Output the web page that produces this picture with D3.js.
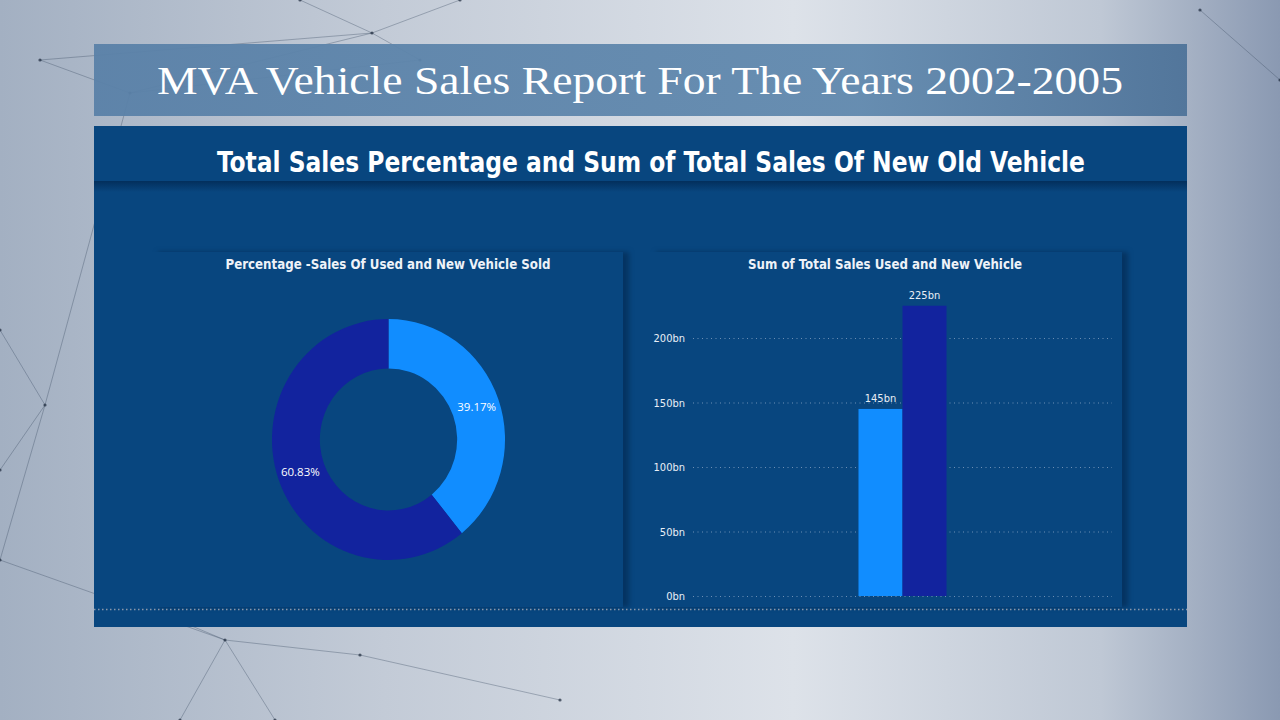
<!DOCTYPE html>
<html>
<head>
<meta charset="utf-8">
<script src="https://cdn.jsdelivr.net/npm/d3@7"></script>
<style>
  html, body { margin: 0; padding: 0; width: 1280px; height: 720px; overflow: hidden; }
  svg { display: block; }
</style>
</head>
<body>
<svg id="chart" width="1280" height="720"></svg>
<script>
// ---- Data ----
const reportTitle = "MVA Vehicle Sales Report For The Years 2002-2005";
const dashboardTitle = "Total Sales Percentage and Sum of Total Sales Of New Old Vehicle";
const donutTitle = "Percentage -Sales Of Used and New Vehicle Sold";
const barTitle = "Sum of Total Sales Used and New Vehicle";
const categories = ["Used Vehicle", "New Vehicle"];
const salesPercent = [39.17, 60.83];
const salesTotalBn = [145, 225];
const yTicks = [0, 50, 100, 150, 200];
const seriesColors = ["#118DFF", "#12239E"];

// decorative background network (not data)
const decoNodes = [[40, 60], [130, 93], [372, 33], [300, 0], [460, 0], [420, 60], [45, 405], [0, 330], [0, 470],
  [225, 640], [180, 720], [275, 720], [360, 655], [0, 560], [130, 600], [560, 700], [1200, 10], [1280, 80]];
const decoLinks = [[0, 1], [1, 2], [2, 3], [2, 4], [2, 5], [0, 2], [6, 7], [6, 8], [6, 1], [9, 10], [9, 11], [9, 12],
  [9, 13], [9, 14], [12, 15], [13, 6], [16, 17], [1, 5]];

const svg = d3.select("#chart");
const defs = svg.append("defs");

// background gradient
const bg = defs.append("linearGradient").attr("id", "bg").attr("x1", 0).attr("y1", 0).attr("x2", 1).attr("y2", 0);
bg.append("stop").attr("offset", "0%").attr("stop-color", "#a3b0c2");
bg.append("stop").attr("offset", "30%").attr("stop-color", "#c3cbd7");
bg.append("stop").attr("offset", "62%").attr("stop-color", "#dde2e9");
bg.append("stop").attr("offset", "86%").attr("stop-color", "#bfc8d5");
bg.append("stop").attr("offset", "100%").attr("stop-color", "#8a99b2");
svg.append("rect").attr("width", 1280).attr("height", 720).attr("fill", "url(#bg)");

const deco = svg.append("g").attr("stroke", "#3a4b63").attr("stroke-opacity", 0.45).attr("stroke-width", 0.8);
deco.selectAll("line").data(decoLinks).join("line")
  .attr("x1", d => decoNodes[d[0]][0]).attr("y1", d => decoNodes[d[0]][1])
  .attr("x2", d => decoNodes[d[1]][0]).attr("y2", d => decoNodes[d[1]][1]);
deco.selectAll("circle").data(decoNodes).join("circle")
  .attr("cx", d => d[0]).attr("cy", d => d[1]).attr("r", 1.6)
  .attr("fill", "#1d2a3c").attr("fill-opacity", 0.7).attr("stroke", "none");

// shadow filter
const f = defs.append("filter").attr("id", "cardShadow").attr("x", "-5%").attr("y", "-5%")
  .attr("width", "115%").attr("height", "115%").attr("color-interpolation-filters", "sRGB");
f.append("feDropShadow").attr("dx", 6).attr("dy", 0).attr("stdDeviation", 2.5)
  .attr("flood-color", "#022548").attr("flood-opacity", 0.55);

// title band
const tb = defs.append("linearGradient").attr("id", "tb").attr("x1", 0).attr("y1", 0).attr("x2", 1).attr("y2", 0);
tb.append("stop").attr("offset", "0%").attr("stop-color", "#5a81a8");
tb.append("stop").attr("offset", "70%").attr("stop-color", "#6189ae");
tb.append("stop").attr("offset", "100%").attr("stop-color", "#4e7399");
svg.append("rect").attr("x", 94).attr("y", 44).attr("width", 1093).attr("height", 72)
  .attr("fill", "url(#tb)").attr("opacity", 0.95);
svg.append("text").attr("x", 640).attr("y", 94).attr("text-anchor", "middle")
  .attr("font-family", "'Liberation Serif', 'DejaVu Serif', serif").attr("font-size", 41)
  .attr("fill", "#ffffff").attr("textLength", 966).attr("lengthAdjust", "spacingAndGlyphs")
  .text(reportTitle);

// dashboard panel
svg.append("rect").attr("x", 94).attr("y", 126).attr("width", 1093).attr("height", 501).attr("fill", "#08467f");
const hs = defs.append("linearGradient").attr("id", "hs").attr("x1", 0).attr("y1", 0).attr("x2", 0).attr("y2", 1);
hs.append("stop").attr("offset", "0%").attr("stop-color", "#032f5c");
hs.append("stop").attr("offset", "100%").attr("stop-color", "#08467f");
svg.append("rect").attr("x", 94).attr("y", 181).attr("width", 1093).attr("height", 11).attr("fill", "url(#hs)");
svg.append("text").attr("x", 651).attr("y", 172).attr("text-anchor", "middle")
  .attr("font-family", "'DejaVu Sans Condensed', 'DejaVu Sans', sans-serif").attr("font-weight", "bold")
  .attr("font-size", 29).attr("fill", "#ffffff")
  .attr("textLength", 868).attr("lengthAdjust", "spacingAndGlyphs")
  .text(dashboardTitle);

// cards
const cardFont = "'DejaVu Sans Condensed', 'DejaVu Sans', sans-serif";
function card(x, w, title, titleLen, cx) {
  svg.append("rect").attr("x", x).attr("y", 252).attr("width", w).attr("height", 355)
    .attr("fill", "#08467f").attr("filter", "url(#cardShadow)");
  svg.append("text").attr("x", cx).attr("y", 269).attr("text-anchor", "middle")
    .attr("font-family", cardFont).attr("font-weight", "bold").attr("font-size", 14)
    .attr("fill", "#eef2f8").attr("textLength", titleLen).attr("lengthAdjust", "spacingAndGlyphs")
    .text(title);
}
card(152, 471, donutTitle, 325, 388);
card(650, 472, barTitle, 274, 885);

// bottom dotted line
svg.append("line").attr("x1", 94).attr("x2", 1187).attr("y1", 609.5).attr("y2", 609.5)
  .attr("stroke", "#8a97aa").attr("stroke-width", 1.5).attr("stroke-dasharray", "1.5,2.5");

// ---- Donut ----
const dcx = 388.5, dcy = 439.5, rOuter = 120.5, rInner = 71, sx = 0.967;
const pie = d3.pie().sort(null).value(d => d)(salesPercent);
const arc = d3.arc().innerRadius(rInner).outerRadius(rOuter);
const rl = (rInner + rOuter) / 2 + 1;
const labelArc = d3.arc().innerRadius(rl).outerRadius(rl);
const dg = svg.append("g").attr("transform", `translate(${dcx},${dcy})`);
dg.append("g").attr("transform", `scale(${sx},1)`)
  .selectAll("path").data(pie).join("path")
  .attr("d", arc).attr("fill", (d, i) => seriesColors[i]);
dg.selectAll("text").data(pie).join("text")
  .attr("transform", d => { const c = labelArc.centroid(d); return `translate(${c[0] * sx},${c[1]})`; })
  .attr("text-anchor", "middle").attr("dy", "0.35em")
  .attr("font-family", "'Open Sans', 'DejaVu Sans', sans-serif").attr("font-size", 11.5)
  .attr("fill", "#ffffff")
  .text(d => d.data.toFixed(2) + "%");

// ---- Bar chart ----
const y = d3.scaleLinear().domain([0, 200]).range([596, 338]);
const gridX0 = 693, gridX1 = 1112;
const xOuter = d3.scaleBand().domain(["Total"]).range([gridX0, gridX1]).paddingOuter(1.88).paddingInner(0);
const xInner = d3.scaleBand().domain(categories).range([0, xOuter.bandwidth()]).padding(0);

const bg2 = svg.append("g");
const yAxis = d3.axisLeft(y).tickValues(yTicks).tickSize(0).tickPadding(0).tickFormat(d => d + "bn");
const ya = bg2.append("g").attr("transform", "translate(685,0)").call(yAxis);
ya.select(".domain").remove();
ya.selectAll("text").attr("font-family", cardFont).attr("font-size", 11).attr("fill", "#e8eef6");
bg2.append("g").selectAll("line").data(yTicks).join("line")
  .attr("x1", gridX0).attr("x2", gridX1)
  .attr("y1", d => y(d) + 0.5).attr("y2", d => y(d) + 0.5)
  .attr("stroke", "#6d8fb5").attr("stroke-width", 1.2).attr("stroke-dasharray", "1,3.5");

const bars = bg2.append("g").attr("transform", `translate(${xOuter("Total")},0)`);
bars.selectAll("rect").data(salesTotalBn).join("rect")
  .attr("x", (d, i) => xInner(categories[i]))
  .attr("width", xInner.bandwidth())
  .attr("y", d => y(d)).attr("height", d => y(0) - y(d))
  .attr("fill", (d, i) => seriesColors[i]);
bars.selectAll("text").data(salesTotalBn).join("text")
  .attr("x", (d, i) => xInner(categories[i]) + xInner.bandwidth() / 2)
  .attr("y", d => y(d) - 7)
  .attr("text-anchor", "middle")
  .attr("font-family", cardFont).attr("font-size", 11).attr("fill", "#e8eef6")
  .text(d => d + "bn");
</script>
</body>
</html>
